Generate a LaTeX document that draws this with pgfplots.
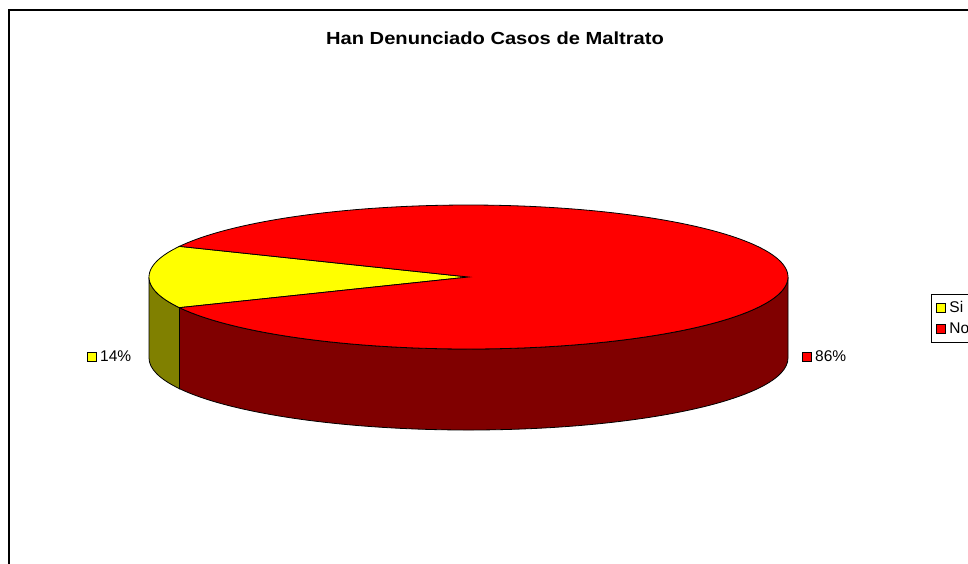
\documentclass[border=0pt]{standalone}
\usepackage{pgfplots}
\pgfplotsset{compat=1.18}
\usepackage{pgfplotstable}
\usepackage{fontspec}
\setmainfont{Liberation Sans}
\definecolor{pieyellow}{RGB}{255,255,0}
\definecolor{piered}{RGB}{255,0,0}
\definecolor{sideyellow}{RGB}{128,128,0}
\definecolor{sidered}{RGB}{128,0,0}

\pgfplotstableread{
label value
Si 14
No 86
}\piedata

\begin{document}
\begin{tikzpicture}
\pgfplotstablegetelem{0}{value}\of\piedata \let\vSi\pgfplotsretval
\pgfplotstablegetelem{1}{value}\of\piedata \let\vNo\pgfplotsretval
\pgfmathsetmacro{\tot}{\vSi+\vNo}
\pgfmathsetmacro{\aA}{180-180*\vSi/\tot}
\pgfmathsetmacro{\aB}{180+180*\vSi/\tot}
\pgfmathsetmacro{\aC}{\aA+360}
\def\cx{468.5}\def\cy{277}\def\ra{319.5}\def\rb{72}\def\dep{81}
\pgfmathsetmacro{\xB}{\cx+\ra*cos(\aB)}
\pgfmathsetmacro{\yB}{\cy-\rb*sin(\aB)+\dep}
\pgfmathsetmacro{\xE}{\cx+\ra}
\pgfmathsetmacro{\yE}{\cy+\dep}
\begin{axis}[
  scale only axis, width=968pt, height=563pt,
  xmin=0, xmax=968, ymin=0, ymax=563, y dir=reverse,
  hide axis, clip=false,
  legend style={at={(axis cs:931,294)}, anchor=north west, draw=black, line width=0.8pt,
    font=\fontsize{15.5}{18}\selectfont, inner xsep=3pt, inner ysep=5pt, row sep=5pt,
    cells={anchor=west}},
]
\coordinate (BL) at (axis cs:0,563);
\coordinate (TR) at (axis cs:968,0);
% frame
\draw[black, line width=1.3pt] (axis cs:9,600) -- (axis cs:9,10) -- (axis cs:1000,10);
% sides
\addplot[forget plot, draw=black, fill=sideyellow, line width=0.8pt, domain=180:\aB, samples=40, variable=\t]
  ({\cx+\ra*cos(\t)}, {\cy-\rb*sin(\t)}) -- (axis cs:\xB,\yB)
  arc[start angle=\aB, end angle=180, x radius=\ra pt, y radius=\rb pt] -- cycle;
\addplot[forget plot, draw=black, fill=sidered, line width=0.8pt, domain=\aB:360, samples=120, variable=\t]
  ({\cx+\ra*cos(\t)}, {\cy-\rb*sin(\t)}) -- (axis cs:\xE,\yE)
  arc[start angle=360, end angle=\aB, x radius=\ra pt, y radius=\rb pt] -- cycle;
% top
\addplot[forget plot, draw=black, fill=pieyellow, line width=0.8pt, domain=\aA:\aB, samples=40, variable=\t]
  ({\cx+\ra*cos(\t)}, {\cy-\rb*sin(\t)}) -- (axis cs:\cx,\cy) -- cycle;
\addplot[forget plot, draw=black, fill=piered, line width=0.8pt, domain=\aB:\aC, samples=200, variable=\t]
  ({\cx+\ra*cos(\t)}, {\cy-\rb*sin(\t)}) -- (axis cs:\cx,\cy) -- cycle;
% data labels
\draw[fill=pieyellow, line width=0.7pt] (axis cs:87,352) rectangle (axis cs:96,361);
\node[anchor=west, inner sep=0pt, font=\fontsize{15.5}{18}\selectfont] at (axis cs:100,356) {14\%};
\draw[fill=piered, line width=0.7pt] (axis cs:802,352) rectangle (axis cs:811,361);
\node[anchor=west, inner sep=0pt, font=\fontsize{15.5}{18}\selectfont] at (axis cs:815,356) {86\%};
% title
\node[font=\bfseries\fontsize{17.5}{20}\selectfont] at (axis cs:495,38) {\scalebox{1.15}[1]{Han Denunciado Casos de Maltrato}};
% legend
\addlegendimage{legend image code/.code={\path[draw=none, fill=none] (0pt,0pt) rectangle (13pt,0.1pt); \draw[fill=pieyellow, line width=0.7pt] (2pt,-4.5pt) rectangle (11pt,4.5pt);}}
\addlegendentry{Si}
\addlegendimage{legend image code/.code={\path[draw=none, fill=none] (0pt,0pt) rectangle (13pt,0.1pt); \draw[fill=piered, line width=0.7pt] (2pt,-4.5pt) rectangle (11pt,4.5pt);}}
\addlegendentry{No}
\end{axis}
\pgfresetboundingbox
\path[use as bounding box] (BL) rectangle (TR);
\end{tikzpicture}
\end{document}
